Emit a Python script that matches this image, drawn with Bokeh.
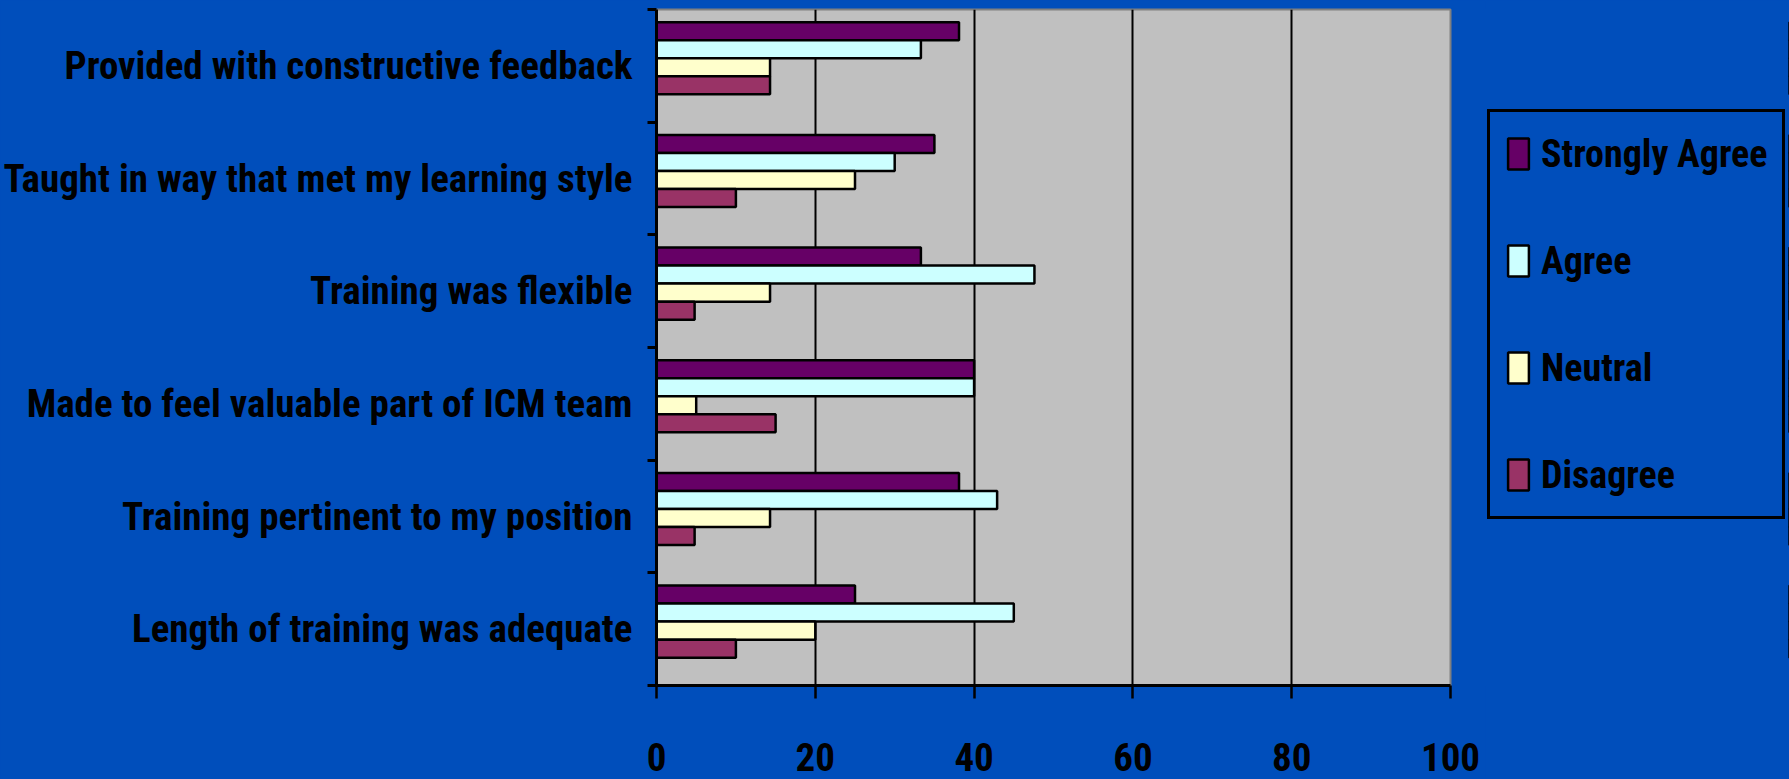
from bokeh.plotting import figure
from bokeh.layouts import row
from bokeh.models import Range1d, FixedTicker, Legend, LegendItem, ColumnDataSource
from bokeh.embed import file_html
from bokeh.resources import INLINE

# Survey statements, listed top to bottom
statements = [
    "Provided with constructive feedback",
    "Taught in way that met my learning style",
    "Training was flexible",
    "Made to feel valuable part of ICM team",
    "Training pertinent to my position",
    "Length of training was adequate",
]

# Percent of respondents per answer
strongly_agree = [38.1, 35.0, 33.3, 40.0, 38.1, 25.0]
agree = [33.3, 30.0, 47.6, 40.0, 42.9, 45.0]
neutral = [14.3, 25.0, 14.3, 5.0, 14.3, 20.0]
disagree = [14.3, 10.0, 4.8, 15.0, 4.8, 10.0]

series_names = ["Strongly Agree", "Agree", "Neutral", "Disagree"]
series_values = [strongly_agree, agree, neutral, disagree]
series_colors = ["#660066", "#CCFFFF", "#FFFFCC", "#993366"]
x_ticks = [0, 20, 40, 60, 80, 100]

BG = "#004EBB"
FONT = "'Roboto Condensed', 'Liberation Sans Narrow', 'Liberation Sans'"
FONT_SIZE = "39px"

MAIN_W = 1485
p = figure(
    width=MAIN_W, height=779,
    x_range=Range1d(0, 100), y_range=Range1d(len(statements) - 0.5, -0.5),
    output_backend="svg", toolbar_location=None,
    min_border_left=655, min_border_right=MAIN_W - 1450,
    min_border_top=9, min_border_bottom=94,
)
p.background_fill_color = "#C0C0C0"
p.border_fill_color = BG
p.outline_line_color = "#808080"
p.outline_line_width = 2

# bars within each category band: offset of each series from the band centre
bar_h = 0.16
offsets = [-0.307, -0.147, 0.013, 0.173]
bar_style = dict(line_color="black", line_width=2.5)
sources = []
for vals, col, off in zip(series_values, series_colors, offsets):
    src = ColumnDataSource(dict(y=[i + off for i in range(len(statements))], v=vals))
    p.hbar(y="y", right="v", left=0, height=bar_h, source=src, fill_color=col, **bar_style)
    sources.append(src)

# x axis
xa = p.xaxis[0]
xa.ticker = FixedTicker(ticks=x_ticks)
xa.axis_line_color = "black"
xa.axis_line_width = 3
xa.major_tick_line_color = "black"
xa.major_tick_line_width = 2.5
xa.major_tick_out = 13
xa.major_tick_in = 0
xa.minor_tick_line_color = None
xa.major_label_standoff = 44
xa.major_label_text_font = FONT
xa.major_label_text_font_style = "bold"
xa.major_label_text_font_size = FONT_SIZE
xa.major_label_text_color = "black"

# y axis: labels at band centres, ticks at band boundaries
ya = p.yaxis[0]
ya.ticker = FixedTicker(ticks=list(range(len(statements))),
                        minor_ticks=[i - 0.5 for i in range(len(statements) + 1)])
ya.major_label_overrides = {i: s for i, s in enumerate(statements)}
ya.axis_line_color = "black"
ya.axis_line_width = 3
ya.major_tick_line_color = None
ya.major_tick_out = 0
ya.major_tick_in = 0
ya.minor_tick_line_color = "black"
ya.minor_tick_line_width = 3
ya.minor_tick_out = 9
ya.minor_tick_in = 0
ya.major_label_standoff = 15
ya.major_label_text_font = FONT
ya.major_label_text_font_style = "bold"
ya.major_label_text_font_size = FONT_SIZE
ya.major_label_text_color = "black"

p.xgrid.grid_line_color = "black"
p.xgrid.grid_line_width = 2
p.xgrid.ticker = FixedTicker(ticks=x_ticks)
p.ygrid.grid_line_color = None

# legend panel beside the chart; its renderers share the bar sources but
# its x range lies below zero, so only the legend swatches are drawn there
LEG_W = 1789 - MAIN_W
lg = figure(
    width=LEG_W, height=779,
    x_range=Range1d(-2, -1), y_range=Range1d(len(statements) - 0.5, -0.5),
    output_backend="svg", toolbar_location=None,
    min_border=0,
)
lg.axis.visible = False
lg.grid.visible = False
lg.outline_line_color = BG
lg.outline_line_width = 3
lg.background_fill_color = BG
lg.border_fill_color = BG

items = []
for name, src, col in zip(series_names, sources, series_colors):
    r = lg.hbar(y="y", right="v", left=0, height=bar_h, source=src, fill_color=col, **bar_style)
    items.append(LegendItem(label=name, renderers=[r]))

legend = Legend(
    items=items,
    location=(2, 166),
    border_line_color="black", border_line_width=3, border_line_alpha=1,
    background_fill_alpha=0,
    padding=15, margin=0,
    glyph_width=26, glyph_height=39,
    label_standoff=10, label_height=53, spacing=54,
    label_text_font=FONT, label_text_font_style="bold",
    label_text_font_size="38px", label_text_color="black",
)
lg.add_layout(legend)

layout = row(p, lg, styles={"background-color": BG})
open("out.html", "w").write(file_html(layout, INLINE))
